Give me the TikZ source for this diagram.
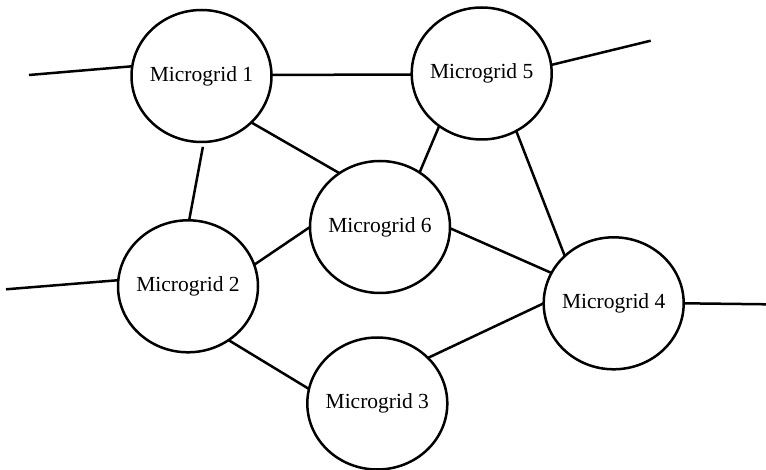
\documentclass[tikz,border=0pt]{standalone}
\usepackage{fontspec}
\setmainfont{Liberation Serif}
\usetikzlibrary{shapes.geometric}
% zero-width label so the ellipse size is set by the minimum dimensions only
\newcommand\gridlabel[1]{\makebox[0pt]{#1}}
\begin{document}
\begin{tikzpicture}[x=1pt,y=-1pt,
  grid/.style={ellipse,draw,line width=2.5pt,minimum width=140pt,minimum height=132pt,
    inner sep=0pt,outer sep=0pt,font=\fontsize{21.5}{26}\selectfont},
  link/.style={line width=2.5pt}]
\useasboundingbox (0,0) rectangle (766,470);
% microgrids
\node[grid] (mg1) at (201.5,76)   {\gridlabel{Microgrid 1}};
\node[grid] (mg5) at (481.7,73.5) {\gridlabel{Microgrid 5}};
\node[grid] (mg2) at (188,286.3)  {\gridlabel{Microgrid 2}};
\node[grid] (mg6) at (380,227)    {\gridlabel{Microgrid 6}};
\node[grid] (mg4) at (613.7,303.3){\gridlabel{Microgrid 4}};
\node[grid] (mg3) at (377.3,403.5){\gridlabel{Microgrid 3}};
% free ends of the external feeders
\coordinate (e1) at (29,75);
\coordinate (e5) at (650.7,40.7);
\coordinate (e2) at (6,289.3);
\coordinate (e4) at (766,304.3);
% external feeders
\draw[link] (e1) -- (mg1.172);
\draw[link] (mg5.7.4) -- (e5);
\draw[link] (e2) -- (mg2.175);
\draw[link] (mg4.-0.8) -- (e4);
% interconnections
\draw[link] (mg1.1) -- (mg5.181);
\draw[link] (mg1.-43) -- (mg6.127.3);
\draw[link,shorten <=5pt] (mg1.-88) -- (mg2.89);
\draw[link] (mg5.-129) -- (mg6.54.6);
\draw[link] (mg5.-59.4) -- (mg4.136.2);
\draw[link] (mg2.18.3) -- (mg6.180.5);
\draw[link] (mg2.-53.6) -- (mg3.168.7);
\draw[link] (mg6.-1) -- (mg4.154.4);
\draw[link] (mg3.42.4) -- (mg4.180);
\end{tikzpicture}
\end{document}
